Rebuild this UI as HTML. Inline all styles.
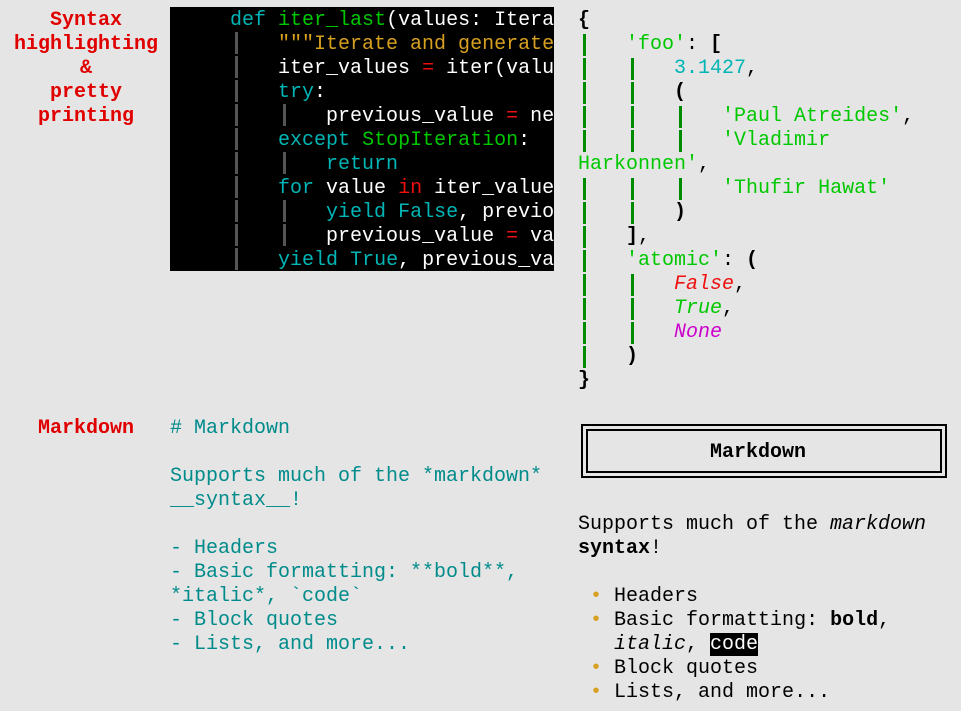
<!DOCTYPE html>
<html><head><meta charset="utf-8"><style>
html,body{margin:0;padding:0;background:#e5e5e5;width:961px;height:711px;overflow:hidden}
pre{position:absolute;margin:0;font-family:"Liberation Mono","DejaVu Sans Mono",monospace;font-size:20px;line-height:24px;white-space:pre;color:#000}
.lab{position:absolute;left:2px;width:168px;text-align:center;font-family:"Liberation Mono",monospace;font-size:20px;line-height:24px;color:#e00000;font-weight:bold}
.code{left:170px;top:7px;width:384px;height:264px;background:#000;color:#fff;overflow:hidden}
.code span.in{position:relative;top:2px}
.v{display:inline-block;width:12px;height:24px;vertical-align:top;background:linear-gradient(currentColor,currentColor) 5px 1px/3px 22px no-repeat}
.g{color:#555}.c{color:#00b5b5}.n{color:#00c800}.s{color:#d8a020}.r{color:#ee1010}
.jg{color:#008c00}.js{color:#00c800}.jn{color:#00b5b5}
.t{color:#008b8b}
.b{color:#d8a020}
</style></head><body>
<div class="lab" style="top:9px">Syntax<br>highlighting<br>&amp;<br>pretty<br>printing</div>
<div class="lab" style="top:417px">Markdown</div>
<pre class="code"><span class="in">     <span class="c">def</span> <span class="n">iter_last</span>(values: Itera</span>
     <span class="v g"></span>   <span class="in"><span class="s">"""Iterate and generate</span></span>
     <span class="v g"></span>   <span class="in">iter_values <span class="r">=</span> iter(valu</span>
     <span class="v g"></span>   <span class="in"><span class="c">try</span>:</span>
     <span class="v g"></span>   <span class="v g"></span>   <span class="in">previous_value <span class="r">=</span> ne</span>
     <span class="v g"></span>   <span class="in"><span class="c">except</span> <span class="n">StopIteration</span>:</span>
     <span class="v g"></span>   <span class="v g"></span>   <span class="in"><span class="c">return</span></span>
     <span class="v g"></span>   <span class="in"><span class="c">for</span> value <span class="r">in</span> iter_value</span>
     <span class="v g"></span>   <span class="v g"></span>   <span class="in"><span class="c">yield</span> <span class="c">False</span>, previo</span>
     <span class="v g"></span>   <span class="v g"></span>   <span class="in">previous_value <span class="r">=</span> va</span>
     <span class="v g"></span>   <span class="in"><span class="c">yield</span> <span class="c">True</span>, previous_va</span></pre>
<pre style="left:578px;top:9px"><b>{</b>
<span class="v jg"></span>   <span class="js">'foo'</span>: <b>[</b>
<span class="v jg"></span>   <span class="v jg"></span>   <span class="jn">3.1427</span>,
<span class="v jg"></span>   <span class="v jg"></span>   <b>(</b>
<span class="v jg"></span>   <span class="v jg"></span>   <span class="v jg"></span>   <span class="js">'Paul Atreides'</span>,
<span class="v jg"></span>   <span class="v jg"></span>   <span class="v jg"></span>   <span class="js">'Vladimir</span>
<span class="js">Harkonnen'</span>,
<span class="v jg"></span>   <span class="v jg"></span>   <span class="v jg"></span>   <span class="js">'Thufir Hawat'</span>
<span class="v jg"></span>   <span class="v jg"></span>   <b>)</b>
<span class="v jg"></span>   <b>]</b>,
<span class="v jg"></span>   <span class="js">'atomic'</span>: <b>(</b>
<span class="v jg"></span>   <span class="v jg"></span>   <i style="color:#ee1010">False</i>,
<span class="v jg"></span>   <span class="v jg"></span>   <i style="color:#00c800">True</i>,
<span class="v jg"></span>   <span class="v jg"></span>   <i style="color:#cc00cc">None</i>
<span class="v jg"></span>   <b>)</b>
<b>}</b></pre>
<pre class="t" style="left:170px;top:417px"># Markdown

Supports much of the *markdown*
__syntax__!

- Headers
- Basic formatting: **bold**,
*italic*, `code`
- Block quotes
- Lists, and more...</pre>
<div style="position:absolute;left:581px;top:424px;width:352px;height:40px;border:7px double #000"></div>
<pre style="left:578px;top:441px;width:360px;text-align:center;font-weight:bold">Markdown</pre>
<pre style="left:578px;top:513px">Supports much of the <i>markdown</i>
<b>syntax</b>!

 <span class="b">•</span> Headers
 <span class="b">•</span> Basic formatting: <b>bold</b>,
   <i>italic</i>, <span style="background:#000;color:#fff">code</span>
 <span class="b">•</span> Block quotes
 <span class="b">•</span> Lists, and more...</pre>
</body></html>
